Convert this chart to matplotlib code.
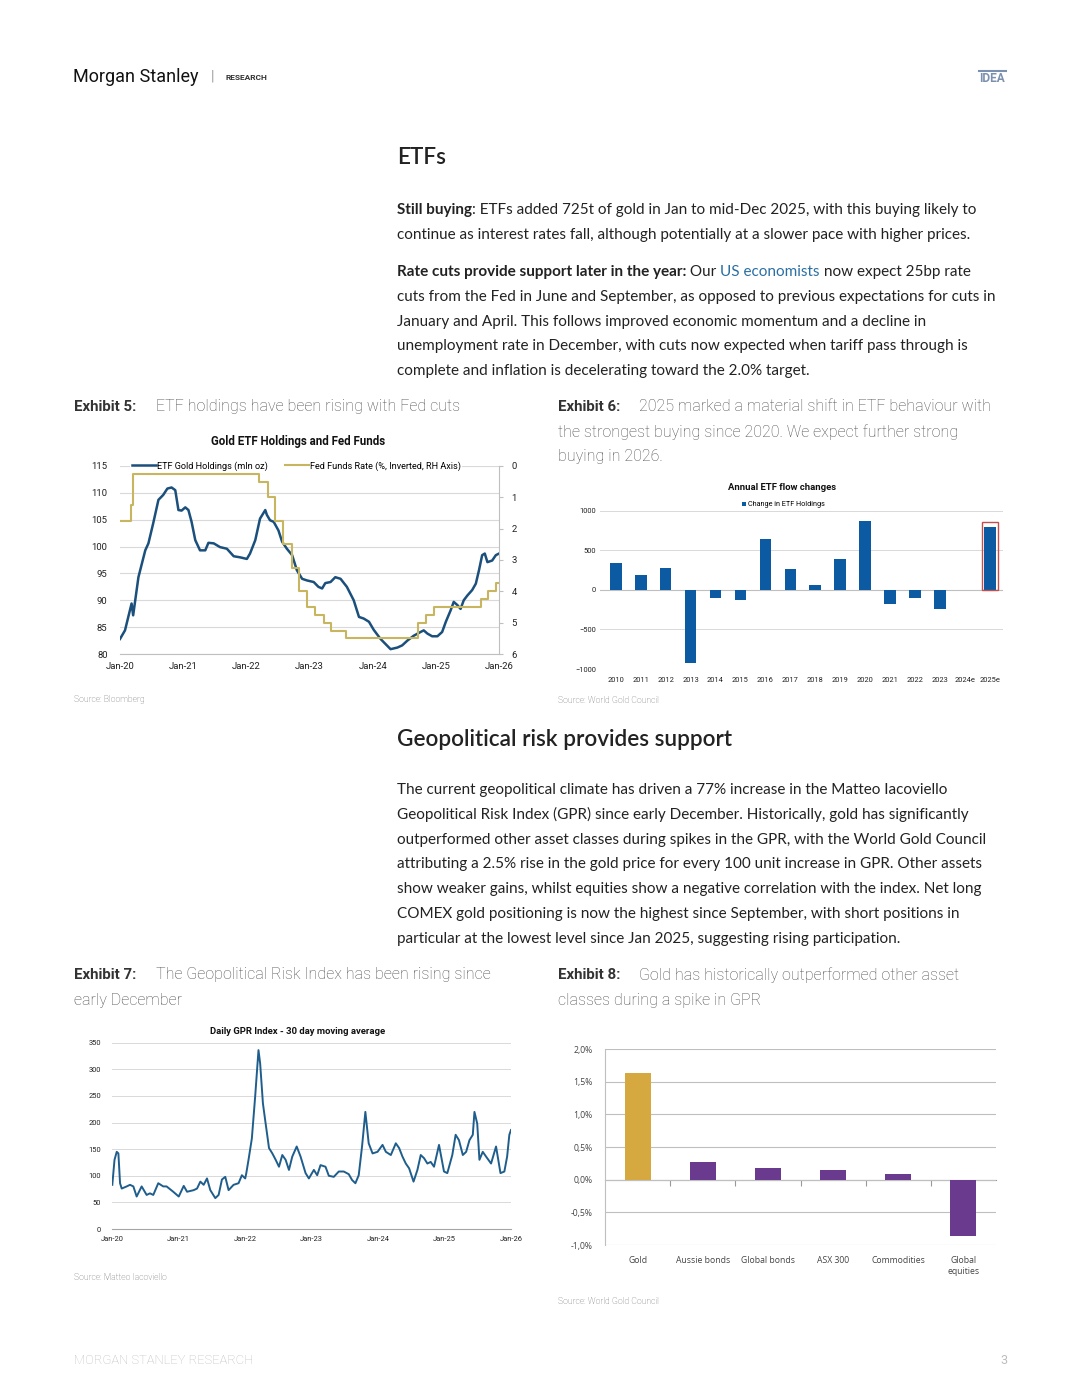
import numpy as np
import matplotlib.pyplot as plt
from matplotlib.lines import Line2D

W, H = 1080, 1397

# Exhibit 5: ETF gold holdings (mln oz), months since Jan-20
etf_months = [0, 0.95, 2.2, 2.5, 3.5, 4.8, 5.4, 6.3, 7.3, 8.2, 9.0, 9.8, 10.5, 11.1,
              11.7, 12.4, 13.0, 13.6, 14.3, 15.2, 16.2, 16.8, 17.8, 19.0, 20.3, 21.6,
              22.8, 24.1, 24.7, 25.7, 26.6, 27.6, 27.9, 28.5, 29.2, 30.1, 30.8, 31.7,
              32.7, 33.6, 34.6, 35.5, 36.8, 37.7, 38.4, 39.0, 40.0, 40.9, 41.9, 43.1,
              44.4, 45.4, 46.3, 47.3, 48.2, 49.5, 50.4, 51.4, 52.7, 53.6, 54.6, 55.8,
              57.1, 57.7, 58.4, 59.3, 60.3, 61.2, 61.9, 62.8, 63.4, 64.1, 64.7, 65.3,
              66.0, 66.9, 67.6, 68.2, 68.8, 69.3, 69.8, 70.7, 71.4, 72.0]
etf_holdings = [82.8, 84.4, 89.4, 87.2, 94.3, 99.3, 100.6, 104.3, 108.7, 109.6, 110.8,
                111.0, 110.5, 106.8, 106.7, 107.3, 106.8, 104.6, 101.2, 99.3, 99.3,
                100.7, 100.6, 99.9, 99.6, 98.2, 98.0, 97.7, 98.7, 101.2, 105.2, 106.8,
                105.9, 104.9, 104.6, 103.0, 100.9, 99.6, 98.4, 95.6, 94.0, 93.7, 93.4,
                92.5, 92.2, 93.2, 93.4, 94.3, 94.0, 92.5, 90.0, 86.9, 86.6, 86.0, 84.5,
                82.8, 81.9, 80.9, 81.2, 81.6, 82.5, 83.4, 84.1, 84.4, 83.8, 83.3, 83.3,
                84.1, 86.0, 88.1, 89.7, 89.1, 88.4, 90.0, 90.9, 91.9, 93.1, 95.6, 98.4,
                98.7, 97.1, 97.4, 98.4, 98.7]
# Fed funds upper bound (%), month of each change
fed_months = [0, 2.1, 2.5, 26.5, 28.1, 29.5, 30.9, 32.7, 34.1, 35.5, 37.1, 38.7,
              40.1, 42.9, 56.6, 58.2, 59.6, 68.6, 70.0, 71.4]
fed_rate = [1.75, 1.25, 0.25, 0.5, 1.0, 1.75, 2.5, 3.25, 4.0, 4.5, 4.75, 5.0,
            5.25, 5.5, 5.0, 4.75, 4.5, 4.25, 4.0, 3.75]
date_labels = ['Jan-20', 'Jan-21', 'Jan-22', 'Jan-23', 'Jan-24', 'Jan-25', 'Jan-26']

# Exhibit 6: annual ETF flows (t)
flow_years = ['2010', '2011', '2012', '2013', '2014', '2015', '2016', '2017', '2018',
              '2019', '2020', '2021', '2022', '2023', '2024e', '2025e']
flow_tonnes = [333, 185, 270, -918, -109, -122, 648, 265, 67, 396, 876, -173, -109,
               -244, 0, 796]

# Exhibit 7: GPR index, 30d MA
gpr_months = [0, 0.4, 0.8, 1.1, 1.4, 1.7, 2.6, 3.2, 3.8, 4.4, 5.3, 6.2, 6.8, 7.4, 8.3,
              9.2, 9.8, 11.0, 12.0, 12.9, 13.5, 14.7, 15.3, 15.9, 16.5, 17.1, 17.7,
              18.6, 19.2, 19.8, 20.4, 21.0, 21.9, 22.8, 23.4, 24.0, 24.2, 24.6, 25.2,
              25.8, 26.4, 26.7, 27.2, 27.6, 28.3, 28.9, 29.5, 30.1, 30.7, 31.3, 31.9,
              32.5, 33.3, 34.0, 34.9, 35.5, 36.4, 37.0, 37.6, 38.5, 39.1, 40.0, 40.9,
              41.8, 42.7, 43.3, 43.9, 44.5, 45.1, 45.7, 46.3, 47.0, 47.9, 48.8, 49.4,
              50.3, 51.2, 51.8, 52.4, 53.0, 53.6, 54.4, 55.1, 55.7, 56.3, 56.9, 57.5,
              58.1, 59.0, 59.9, 60.5, 61.4, 62.0, 62.6, 63.3, 63.9, 64.5, 65.1, 65.4,
              65.9, 66.3, 66.9, 67.5, 68.4, 69.3, 70.1, 70.8, 71.3, 71.7, 72.0]
gpr_values = [83, 130, 145, 142, 86, 76, 80, 83, 80, 61, 80, 64, 67, 64, 86, 80, 80,
              70, 61, 81, 70, 73, 76, 89, 83, 95, 73, 58, 64, 93, 98, 73, 83, 86, 101,
              95, 105, 130, 170, 249, 336, 311, 236, 205, 152, 142, 130, 117, 139, 130,
              111, 136, 155, 136, 105, 95, 111, 101, 120, 117, 100, 98, 108, 108, 103,
              92, 86, 101, 155, 220, 161, 142, 145, 158, 145, 139, 161, 152, 136, 123,
              114, 89, 111, 139, 133, 123, 126, 117, 158, 108, 105, 139, 177, 167, 139,
              145, 167, 177, 220, 198, 130, 145, 136, 123, 155, 105, 108, 136, 177, 186]

# Exhibit 8: gold price response per 100 unit rise in GPR
assets = ['Gold', 'Aussie bonds', 'Global bonds', 'ASX 300', 'Commodities', 'Global\nequities']
asset_moves = [1.64, 0.265, 0.18, 0.15, 0.09, -0.865]

plt.rcParams['font.family'] = ['Roboto', 'DejaVu Sans']
fig = plt.figure(figsize=(W / 100, H / 100), dpi=100)
rend = fig.canvas.get_renderer()

BODY = '#222222'
GRID = '#d9d9d9'


def ax_at(left, top, right, bottom):
    return fig.add_axes([left / W, 1 - bottom / H, (right - left) / W, (bottom - top) / H])


def put(x, y, s, **kw):
    kw.setdefault('va', 'center')
    return fig.text(x / W, 1 - y / H, s, **kw)


def width_of(s, **kw):
    t = fig.text(0, 0, '|' + s + '|', **kw)
    w1 = t.get_window_extent(rend).width
    t.remove()
    t = fig.text(0, 0, '||', **kw)
    w0 = t.get_window_extent(rend).width
    t.remove()
    return w1 - w0


def put_runs(x, y, runs, **kw):
    for s, weight, color in runs:
        put(x, y, s, fontweight=weight, color=color, **kw)
        x += width_of(s, fontweight=weight, **kw)


# header / footer
put(73, 77, 'Morgan Stanley', fontsize=13, color='#111111')
put(211, 77, '|', fontsize=10, color='#999999')
put(225, 77, 'RESEARCH', fontsize=6, fontweight='bold', color='#333333')
put(979, 79, 'IDEA', fontsize=8.6, fontweight='bold', color='#7b8fae')
fig.add_artist(Line2D([979 / W, 1006 / W], [1 - 71 / H, 1 - 71 / H], color='#7b8fae', lw=1.5))
put(74, 1361, 'MORGAN STANLEY RESEARCH', fontsize=9.4, color='#bdbdbd', fontweight='light')
put(1000, 1361, '3', fontsize=9, color='#bdbdbd')

# body text
bt = dict(fontsize=11.0, family=['Lato', 'DejaVu Sans'])
hd = dict(fontsize=16.2, fontweight='semibold', family=['Lato', 'DejaVu Sans'], color=BODY)
put(397, 158, 'ETFs', **hd)
put_runs(397, 210, [('Still buying', 'bold', BODY),
                    (': ETFs added 725t of gold in Jan to mid-Dec 2025, with this buying likely to', 'normal', BODY)], **bt)
put(397, 235, 'continue as interest rates fall, although potentially at a slower pace with higher prices.', color=BODY, **bt)
put_runs(397, 272, [('Rate cuts provide support later in the year:', 'bold', BODY),
                    (' Our ', 'normal', BODY), ('US economists', 'normal', '#2a6fa3'),
                    (' now expect 25bp rate', 'normal', BODY)], **bt)
para2 = ['cuts from the Fed in June and September, as opposed to previous expectations for cuts in',
         'January and April. This follows improved economic momentum and a decline in',
         'unemployment rate in December, with cuts now expected when tariff pass through is',
         'complete and inflation is decelerating toward the 2.0% target.']
for i, line in enumerate(para2):
    put(397, 297 + i * 24.7, line, color=BODY, **bt)

put(397, 739, 'Geopolitical risk provides support', **hd)
para3 = ['The current geopolitical climate has driven a 77% increase in the Matteo Iacoviello',
         'Geopolitical Risk Index (GPR) since early December. Historically, gold has significantly',
         'outperformed other asset classes during spikes in the GPR, with the World Gold Council',
         'attributing a 2.5% rise in the gold price for every 100 unit increase in GPR. Other assets',
         'show weaker gains, whilst equities show a negative correlation with the index. Net long',
         'COMEX gold positioning is now the highest since September, with short positions in',
         'particular at the lowest level since Jan 2025, suggesting rising participation.']
for i, line in enumerate(para3):
    put(397, 790 + i * 24.8, line, color=BODY, **bt)

# exhibit captions
cap = dict(fontsize=11.5, color='#4d4d4d', fontweight='light')
capb = dict(fontsize=10.8, color='#333333', fontweight='bold')
put(74, 407, 'Exhibit 5:', **capb)
put(156, 407, 'ETF holdings have been rising with Fed cuts', **cap)
put(558, 407, 'Exhibit 6:', **capb)
put(639, 407, '2025 marked a material shift in ETF behaviour with', **cap)
put(558, 432, 'the strongest buying since 2020. We expect further strong', **cap)
put(558, 457, 'buying in 2026.', **cap)
put(74, 975, 'Exhibit 7:', **capb)
put(156, 975, 'The Geopolitical Risk Index has been rising since', **cap)
put(74, 1000, 'early December', **cap)
put(558, 975, 'Exhibit 8:', **capb)
put(639, 975, 'Gold has historically outperformed other asset', **cap)
put(558, 1000, 'classes during a spike in GPR', **cap)

src = dict(fontsize=6.2, color='#666666', fontweight='light')
put(74, 700, 'Source: Bloomberg', **src)
put(558, 701, 'Source: World Gold Council', **src)
put(74, 1277, 'Source: Matteo Iacoviello', **src)
put(558, 1302, 'Source: World Gold Council', **src)

# ---- Exhibit 5
ax5 = ax_at(120, 466, 499, 654)
ax5.plot(etf_months, etf_holdings, color='#1b4f7c', lw=1.8, label='ETF Gold Holdings (mln oz)')
ax5.set_xlim(0, 72)
ax5.set_ylim(80, 115)
ax5.set_yticks(range(80, 116, 5))
ax5.set_xticks(range(0, 73, 12), labels=date_labels)
ax5.grid(axis='y', color=GRID, lw=0.8)
ax5.set_axisbelow(True)
for sp in ['left', 'top', 'right']:
    ax5.spines[sp].set_visible(False)
ax5.spines['bottom'].set_color('#bfbfbf')
ax5.tick_params(length=0, labelsize=6.8, colors='#222222', pad=6)
ax5.tick_params(axis='y', pad=9)
ax5b = ax5.twinx()
ax5b.step(fed_months + [72], fed_rate + [fed_rate[-1]], where='post', color='#c8b560', lw=1.5,
          label='Fed Funds Rate (%, Inverted, RH Axis)')
ax5b.set_ylim(6, 0)
ax5b.set_yticks(range(0, 7))
for sp in ['left', 'top', 'bottom']:
    ax5b.spines[sp].set_visible(False)
ax5b.spines['right'].set_color('#bfbfbf')
ax5b.tick_params(length=3, color='#bfbfbf', labelsize=6.8, labelcolor='#222222', pad=6)
hs = ax5.get_lines() + ax5b.get_lines()
leg = ax5.legend(hs, [h.get_label() for h in hs], ncol=2, loc='center', bbox_to_anchor=(0.465, 1.0),
                 fontsize=6.6, frameon=True, facecolor='white', edgecolor='none', framealpha=1,
                 handlelength=2.6, handletextpad=0.1, columnspacing=1.9, borderpad=0.15)
leg.set_zorder(5)
put(298, 442, 'Gold ETF Holdings and Fed Funds', ha='center', fontsize=8.3, fontweight='bold', color='#111111')

# ---- Exhibit 6
ax6 = ax_at(600, 510.7, 1003, 669)
xs = np.arange(len(flow_years))
ax6.bar(xs, flow_tonnes, width=0.47, color='#0b5aa2', zorder=3, label='Change in ETF Holdings')
ax6.bar(xs[-1], flow_tonnes[-1] * 1.08, width=0.62, fill=False, edgecolor='#c0504d', lw=1.0, zorder=4)
ax6.set_xlim(-0.63, 15.52)
ax6.set_ylim(-1000, 1000)
ax6.set_yticks([-1000, -500, 0, 500, 1000])
ax6.set_xticks(xs, labels=flow_years)
ax6.grid(axis='y', color=GRID, lw=0.7)
ax6.axhline(0, color='#bfbfbf', lw=0.8, zorder=2)
for sp in ax6.spines.values():
    sp.set_visible(False)
ax6.tick_params(length=0, labelsize=5.4, colors='#222222')
ax6.tick_params(axis='x', pad=6)
ax6.tick_params(axis='y', pad=3)
ax6.legend(loc='center', bbox_to_anchor=(0.455, 1.037), fontsize=5.2, frameon=False,
           handlelength=0.6, handleheight=0.6, handletextpad=0.3, borderpad=0)
put(782, 488, 'Annual ETF flow changes', ha='center', fontsize=6.8, fontweight='bold', color='#111111')

# ---- Exhibit 7
ax7 = ax_at(112.3, 1042.7, 511, 1229)
ax7.plot(gpr_months, gpr_values, color='#1f5e8c', lw=1.4)
ax7.set_xlim(0, 72)
ax7.set_ylim(0, 350)
ax7.set_yticks(range(0, 351, 50))
ax7.set_xticks(range(0, 73, 12), labels=date_labels)
ax7.grid(axis='y', color=GRID, lw=0.7)
ax7.set_axisbelow(True)
for sp in ['left', 'top', 'right']:
    ax7.spines[sp].set_visible(False)
ax7.spines['bottom'].set_color('#a6a6a6')
ax7.tick_params(length=0, labelsize=5.4, colors='#222222')
ax7.tick_params(axis='y', pad=8)
ax7.tick_params(axis='x', pad=5)
put(298, 1032, 'Daily GPR Index - 30 day moving average', ha='center', fontsize=6.8,
    fontweight='bold', color='#111111')

# ---- Exhibit 8
ax8 = ax_at(605, 1049, 996, 1245)
xa = np.arange(len(assets))
ax8.bar(xa, asset_moves, width=0.4, zorder=3,
        color=['#d6a940'] + ['#6a3a8f'] * (len(assets) - 1))
ax8.set_xlim(-0.5, len(assets) - 0.5)
ax8.set_ylim(-1.0, 2.0)
ticks8 = np.arange(-1.0, 2.01, 0.5)
ax8.set_yticks(ticks8, labels=[f'{t:.1f}%'.replace('.', ',') for t in ticks8])
ax8.set_xticks(xa, labels=assets)
ax8.grid(axis='y', color='#bfbfbf', lw=0.8)
ax8.set_axisbelow(True)
for sp in ['top', 'right', 'bottom']:
    ax8.spines[sp].set_visible(False)
ax8.spines['left'].set_color('#bfbfbf')
ax8.tick_params(length=0, labelsize=6.2, colors='#444444', labelfontfamily='Open Sans')
ax8.tick_params(axis='y', pad=9)
ax8.tick_params(axis='x', pad=8)
zero8 = ax8.secondary_xaxis(1 / 3)
zero8.set_xticks(np.arange(1, len(assets)) - 0.5, labels=[])
zero8.tick_params(length=4, color='#999999', direction='out')
zero8.spines['bottom'].set_color('#999999')

fig.savefig('out.png', dpi=100, facecolor='white')
